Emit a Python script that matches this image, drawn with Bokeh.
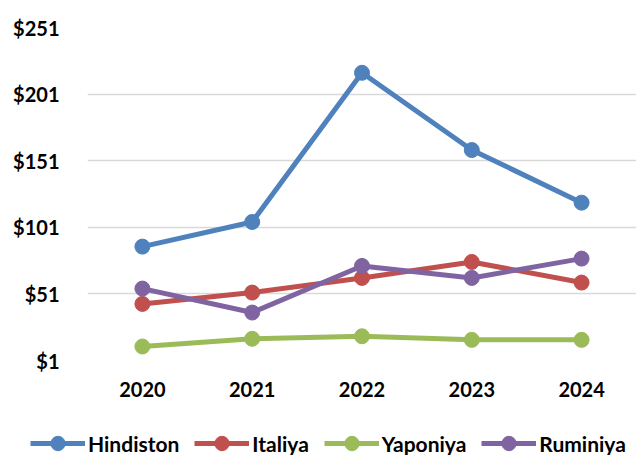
from bokeh.plotting import figure
from bokeh.layouts import column
from bokeh.models import FactorRange, Range1d, FixedTicker, NumeralTickFormatter, Legend, LegendItem
from bokeh.embed import file_html
from bokeh.resources import INLINE

years = ["2020", "2021", "2022", "2023", "2024"]
series_names = ["Hindiston", "Italiya", "Yaponiya", "Ruminiya"]
hindiston = [86.5, 105, 217, 159, 119.5]
italiya = [43.5, 52, 63, 75, 59.5]
yaponiya = [11.5, 17.3, 19.2, 16.5, 16.5]
ruminiya = [55, 37, 72, 63, 77.5]
y_ticks = [1, 51, 101, 151, 201, 251]
colors = ["#4F81BD", "#C0504D", "#9BBB59", "#8064A2"]

FONT = "Lato"

p = figure(width=636, height=400, x_range=FactorRange(factors=years, range_padding=0),
           y_range=Range1d(1, 251), output_backend="svg", toolbar_location=None,
           min_border_left=87, min_border_right=0, min_border_top=27, min_border_bottom=40)
p.frame_align = False
p.outline_line_color = None
p.xgrid.grid_line_color = None
p.ygrid.grid_line_color = "#D9D9D9"
p.ygrid.grid_line_width = 1.5

p.yaxis.ticker = FixedTicker(ticks=y_ticks)
p.yaxis.formatter = NumeralTickFormatter(format="$0")
for ax in (p.xaxis[0], p.yaxis[0]):
    ax.axis_line_color = None
    ax.major_tick_line_color = None
    ax.minor_tick_line_color = None
    ax.major_label_text_font = FONT
    ax.major_label_text_font_style = "bold"
    ax.major_label_text_font_size = "20px"
    ax.major_label_text_color = "#000000"
p.yaxis.major_label_standoff = 22
p.xaxis.major_label_standoff = 15

all_vals = [hindiston, italiya, yaponiya, ruminiya]
for name, vals, c in zip(series_names, all_vals, colors):
    p.line(years, vals, line_color=c, line_width=5)
    p.scatter(years, vals, size=15, fill_color=c, line_color=c)

# legend strip below the chart (its series lie outside its visible range)
lf = figure(width=636, height=55, x_range=FactorRange(factors=years), y_range=Range1d(-2, -1),
            output_backend="svg", toolbar_location=None, x_axis_type=None, y_axis_type=None,
            min_border_left=0, min_border_right=0, min_border_top=0, min_border_bottom=0)
lf.frame_align = False
lf.outline_line_color = None
lf.grid.visible = False
items = []
for name, vals, c in zip(series_names, all_vals, colors):
    r1 = lf.line(years, vals, line_color=c, line_width=5)
    r2 = lf.scatter(years, vals, size=15, fill_color=c, line_color=c)
    items.append(LegendItem(label=name, renderers=[r1, r2]))

legend = Legend(items=items, orientation="horizontal", location=(30, -6),
                glyph_width=55, glyph_height=36, label_text_font=FONT,
                label_text_font_style="bold", label_text_font_size="21px",
                label_text_color="#000000",
                label_standoff=3, spacing=15, padding=0, margin=0,
                background_fill_alpha=0, border_line_color=None)
lf.add_layout(legend, "center")

layout = column(p, lf, spacing=0)
open("out.html", "w").write(file_html(layout, INLINE))
